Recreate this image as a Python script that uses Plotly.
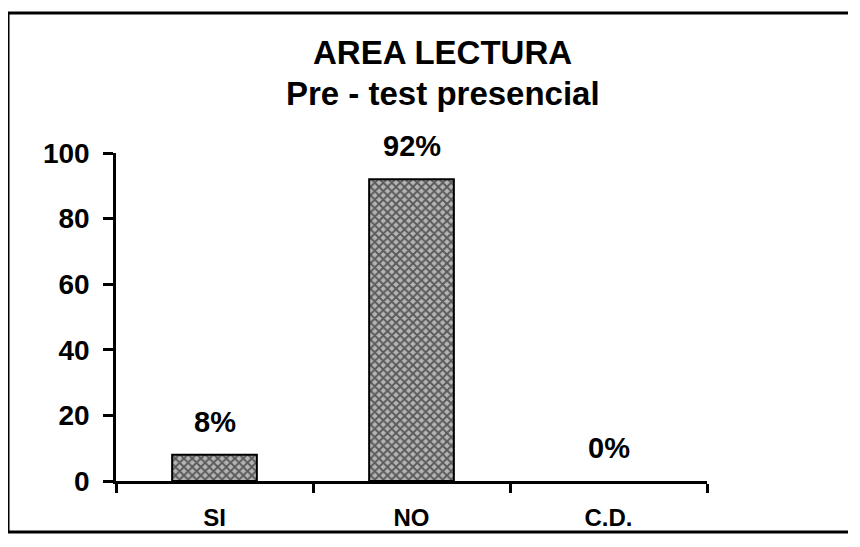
import plotly.graph_objects as go

# datos del grafico
categorias = ['SI', 'NO', 'C.D.']
porcentajes = [8, 92, 0]
etiquetas = ['8%', '92%', '0%']
y_ticks = [0, 20, 40, 60, 80, 100]

FONT = 'Liberation Sans, Arial, sans-serif'

fig = go.Figure()
fig.add_trace(go.Bar(
    x=categorias,
    y=porcentajes,
    width=0.43,
    marker=dict(
        color='white',
        line=dict(color='black', width=[2 if v > 0 else 0 for v in porcentajes]),
        pattern=dict(shape='x', fgcolor='black', bgcolor='#b5b5b5', size=6, solidity=0.55),
    ),
    hoverinfo='skip',
))

# etiquetas de porcentaje sobre cada barra
for cat, val, txt in zip(categorias, porcentajes, etiquetas):
    fig.add_annotation(x=cat, y=val, text=txt, showarrow=False,
                       yanchor='middle', yshift=33,
                       font=dict(family=FONT, size=29, color='black', weight='bold'))

# titulo en dos lineas
fig.add_annotation(xref='paper', yref='paper', x=0.553, y=1.305, text='AREA LECTURA',
                   showarrow=False, yanchor='middle',
                   font=dict(family=FONT, size=33, color='black', weight='bold'))
fig.add_annotation(xref='paper', yref='paper', x=0.553, y=1.18, text='Pre - test presencial',
                   showarrow=False, yanchor='middle',
                   font=dict(family=FONT, size=33, color='black', weight='bold'))

# marco exterior (el borde derecho queda fuera de la imagen)
fig.add_shape(type='path', xref='paper', yref='paper',
              path='M 1.4,1.4268 L -0.1827,1.4268 L -0.1827,-0.1555 L 1.4,-0.1555',
              line=dict(color='black', width=3))

fig.update_layout(
    width=840, height=526,
    margin=dict(l=108, r=141, t=145, b=53),
    plot_bgcolor='white', paper_bgcolor='white',
    showlegend=False,
    font=dict(family=FONT, color='black'),
)
fig.update_xaxes(
    showline=True, linecolor='black', linewidth=2.5,
    ticks='outside', tickson='boundaries', ticklen=9, tickwidth=2.5, tickcolor='black',
    ticklabelstandoff=13, automargin=False,
    tickfont=dict(family=FONT, size=24, color='black', weight='bold'),
    showgrid=False, range=[-0.5, 2.5],
)
fig.update_yaxes(
    range=[0, 100], tickvals=y_ticks,
    showline=True, linecolor='black', linewidth=2.5,
    ticks='outside', ticklen=10, tickwidth=2.5, tickcolor='black',
    ticklabelstandoff=8, automargin=False,
    tickfont=dict(family=FONT, size=28, color='black', weight='bold'),
    showgrid=False, zeroline=False,
)

fig.write_html('out.html')
